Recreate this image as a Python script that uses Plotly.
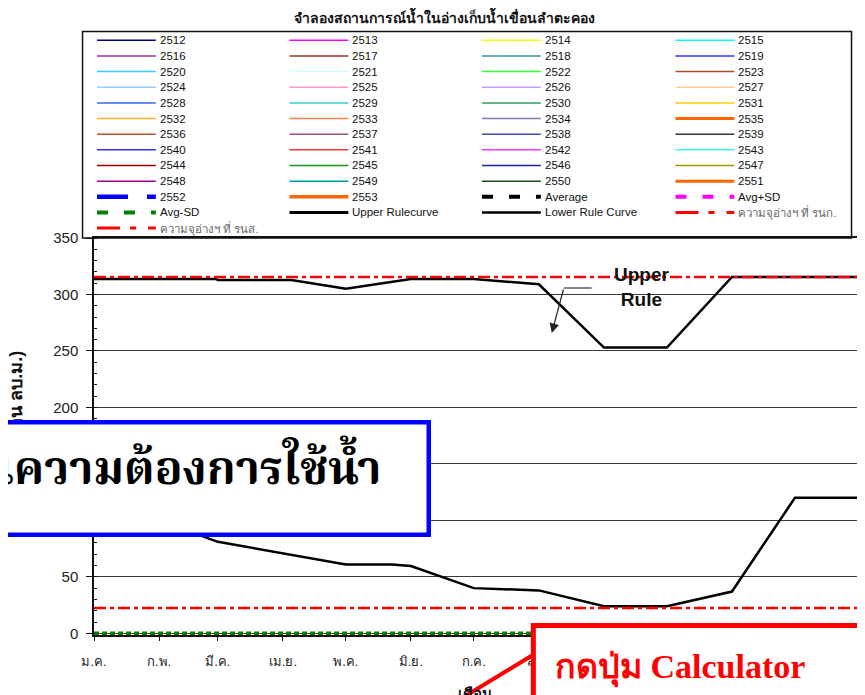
import plotly.graph_objects as go

# ---------------- data ----------------
month_ticks = ['2009-01-01', '2009-02-01', '2009-03-01', '2009-04-01', '2009-05-01', '2009-06-01',
               '2009-07-01', '2009-08-01', '2009-09-01', '2009-10-01', '2009-11-01', '2009-12-01']
# labels from ก.ย. onward are hidden under the red call-out box in the reference
month_labels = ['ม.ค.', 'ก.พ.', 'มี.ค.', 'เม.ย.', 'พ.ค.', 'มิ.ย.', 'ก.ค.', 'ส.ค.', '', '', '', '']

upper_dates = ['2009-01-01', '2009-02-28', '2009-03-01', '2009-04-05', '2009-05-01', '2009-06-01',
               '2009-07-01', '2009-08-01', '2009-09-01', '2009-10-01', '2009-11-01', '2009-12-31']
upper_vals = [313.7, 313.7, 312.8, 312.8, 305.0, 313.7, 313.7, 309.0, 253.0, 253.0, 315.5, 315.5]

lower_dates = ['2009-01-01', '2009-02-01', '2009-03-01', '2009-04-01', '2009-05-01', '2009-05-23',
               '2009-06-01', '2009-07-01', '2009-08-01', '2009-09-01', '2009-10-01', '2009-11-01',
               '2009-12-01', '2009-12-31']
lower_vals = [120, 100, 81, 71, 61, 61, 59.5, 40, 38, 24, 24, 37, 120, 120]

line_dates = ['2009-01-01', '2009-12-31']
cap_nrl = [315.5, 315.5]      # ความจุอ่างฯ ที่ รนก.
cap_lwl = [22.5, 22.5]        # ความจุอ่างฯ ที่ รนส.
avg_minus_sd = [0, 0]

legend_names = ['2512', '2513', '2514', '2515', '2516', '2517', '2518', '2519', '2520', '2521',
                '2522', '2523', '2524', '2525', '2526', '2527', '2528', '2529', '2530', '2531',
                '2532', '2533', '2534', '2535', '2536', '2537', '2538', '2539', '2540', '2541',
                '2542', '2543', '2544', '2545', '2546', '2547', '2548', '2549', '2550', '2551',
                '2552', '2553', 'Average', 'Avg+SD', 'Avg-SD', 'Upper Rulecurve', 'Lower Rule Curve',
                'ความจุอ่างฯ ที่ รนก.', 'ความจุอ่างฯ ที่ รนส.']
legend_colors = ['#000080', '#FF00FF', '#FFFF00', '#00FFFF',
                 '#993399', '#993333', '#339999', '#3333FF',
                 '#33CCFF', '#CCFFFF', '#33FF33', '#A0522D',
                 '#99CCFF', '#FF99CC', '#CC99FF', '#FFCC99',
                 '#3366FF', '#33CCCC', '#339966', '#FFCC00',
                 '#FFAA33', '#FF8040', '#8080B0', '#FF6600',
                 '#B05A2A', '#A0507A', '#4B4BA8', '#333333',
                 '#3333FF', '#FF3333', '#FF33FF', '#33FFFF',
                 '#990000', '#119911', '#1F1F9F', '#999900',
                 '#990099', '#009999', '#1A4D1A', '#FF6600',
                 '#0000FF', '#FF6600', '#000000', '#FF00FF',
                 '#008000', '#000000', '#000000', '#FF0000',
                 '#FF0000']

title_text = 'จำลองสถานการณ์น้ำในอ่างเก็บน้ำเขื่อนลำตะคอง'
ytitle_text = 'ปริมาณน้ำ (ล้าน ลบ.ม.)'
xtitle_text = 'เดือน'

# ---------------- layout helpers ----------------
OFF = 8                      # page body margin
W_FIG, H_FIG = 865 - OFF, 695 - OFF
L, R, T, B = 94 - OFF, 3, 238 - OFF, 60
PW = W_FIG - L - R
PH = H_FIG - T - B
PLOT_LEFT = OFF + L
PLOT_BOTTOM = OFF + H_FIG - B


def px(x):
    return (x - PLOT_LEFT) / PW


def py(y):
    return (PLOT_BOTTOM - y) / PH


fig = go.Figure()

fig.add_trace(go.Scatter(x=line_dates, y=avg_minus_sd, name='Avg-SD', mode='lines',
                         line=dict(color='#008000', width=3.5, dash='5px,3px'), showlegend=False))
fig.add_trace(go.Scatter(x=upper_dates, y=upper_vals, name='Upper Rulecurve', mode='lines',
                         line=dict(color='#000000', width=2.5), showlegend=False))
fig.add_trace(go.Scatter(x=lower_dates, y=lower_vals, name='Lower Rule Curve', mode='lines',
                         line=dict(color='#000000', width=2.5), showlegend=False))
fig.add_trace(go.Scatter(x=line_dates, y=cap_nrl, name='ความจุอ่างฯ ที่ รนก.', mode='lines',
                         line=dict(color='#FF0000', width=2.5, dash='12px,4px,4px,4px'), showlegend=False))
fig.add_trace(go.Scatter(x=line_dates, y=cap_lwl, name='ความจุอ่างฯ ที่ รนส.', mode='lines',
                         line=dict(color='#FF0000', width=2.5, dash='12px,4px,4px,4px'), showlegend=False))

shapes = []
annotations = []

# gaps in the horizontal gridlines at month boundaries
for d in month_ticks[1:]:
    shapes.append(dict(type='line', xref='x', yref='paper', x0=d, x1=d, y0=0, y1=1,
                       line=dict(color='white', width=3), layer='between'))

# ---------------- hand-drawn legend box (4 columns) ----------------
shapes.append(dict(type='rect', xref='paper', yref='paper', x0=px(82.5), x1=px(853.5),
                   y0=py(238), y1=py(31.5), line=dict(color='#111', width=1.5)))
col_x = [97, 290, 483, 677]
row0, row_h = 40.3, 15.65
for i, name in enumerate(legend_names):
    r, c = divmod(i, 4)
    yy = row0 + r * row_h
    x0 = col_x[c]
    width = 1.5
    dash = 'solid'
    if name in ('2535', '2551'):
        width = 3
    if name == '2552':
        width, dash = 4.5, '31px,19px'
    if name == '2553':
        width = 3.5
    if name in ('Average', 'Avg+SD', 'Avg-SD'):
        width, dash = 4, '11px,16px'
    if name == 'Upper Rulecurve':
        width = 3
    if name == 'Lower Rule Curve':
        width = 2.5
    if name.startswith('ความจุ'):
        width, dash = 3, '23px,10px,6px,12px'
    shapes.append(dict(type='line', xref='paper', yref='paper', x0=px(x0), x1=px(x0 + 59),
                       y0=py(yy), y1=py(yy), line=dict(color=legend_colors[i], width=width, dash=dash)))
    annotations.append(dict(text=name, xref='paper', yref='paper', x=px(x0 + 61), y=py(yy),
                            xanchor='left', yanchor='middle', showarrow=False,
                            font=dict(family='Liberation Sans, Arial, sans-serif', size=11.5,
                                      color='#666666' if name.startswith('ความจุ') else '#111111')))

# title
annotations.append(dict(text='<b>' + title_text + '</b>', xref='paper', yref='paper', x=px(445), y=py(17),
                        xanchor='center', yanchor='middle', showarrow=False,
                        font=dict(size=14, color='#111')))

# y-axis title (partly hidden by the blue box)
annotations.append(dict(text='<b>' + ytitle_text + '</b>', xref='paper', yref='paper', x=px(13), y=py(349),
                        xanchor='center', yanchor='top', textangle=-90, showarrow=False,
                        font=dict(size=18, color='#111')))

# x-axis title
annotations.append(dict(text='<b>' + xtitle_text + '</b>', xref='paper', yref='paper', x=px(476), y=py(693),
                        xanchor='center', yanchor='middle', showarrow=False,
                        font=dict(size=15, color='#111')))

# Upper Rule callout
annotations.append(dict(text='<b>Upper<br>Rule</b>', xref='paper', yref='paper', x=px(643), y=py(287),
                        xanchor='center', yanchor='middle', showarrow=False,
                        font=dict(family='Liberation Sans, Arial, sans-serif', size=19, color='#111')))
shapes.append(dict(type='line', xref='paper', yref='paper', x0=px(593), x1=px(565), y0=py(288), y1=py(288),
                   line=dict(color='#333', width=1.2), layer='above'))
annotations.append(dict(text='', xref='paper', yref='paper', x=px(553), y=py(333), ax=12, ay=-45,
                        showarrow=True, arrowhead=2, arrowsize=1.6, arrowwidth=1.2, arrowcolor='#222'))

# blue overlay box (white, covers part of the chart)
annotations.append(dict(text=' ', xref='paper', yref='paper', x=px(432), y=py(478.5),
                        xanchor='right', yanchor='middle', showarrow=False,
                        width=623, height=108, borderpad=0, borderwidth=4.5,
                        bordercolor='#0000FF', bgcolor='white'))
annotations.append(dict(text='<b>นความต้องการใช้น้ำ</b>', xref='paper', yref='paper', x=px(384), y=py(472),
                        xanchor='right', yanchor='middle', showarrow=False,
                        font=dict(family='Noto Serif Thai, Noto Sans Thai, serif', size=46, color='#000')))

# red overlay box
shapes.append(dict(type='rect', xref='paper', yref='paper', x0=px(534.5), x1=px(890), y0=py(625.5), y1=py(720),
                   line=dict(color='#FF0000', width=5), fillcolor='white', layer='above'))
shapes.append(dict(type='line', xref='paper', yref='paper', x0=px(534), x1=px(458), y0=py(655), y1=py(701),
                   line=dict(color='#FF0000', width=4), layer='above'))
annotations.append(dict(text='<b>กดปุ่ม Calculator</b>', xref='paper', yref='paper', x=px(554), y=py(668),
                        xanchor='left', yanchor='middle', showarrow=False,
                        font=dict(family='Liberation Serif, Times New Roman, serif', size=34, color='#FF0000')))

fig.update_layout(
    width=W_FIG, height=H_FIG,
    margin=dict(l=L, r=R, t=T, b=B, pad=0),
    paper_bgcolor='white', plot_bgcolor='white',
    showlegend=False,
    shapes=shapes, annotations=annotations,
    font=dict(family='Liberation Sans, Arial, sans-serif', color='#222'),
)
fig.update_xaxes(type='date', range=['2009-01-01', '2010-01-01'],
                 tickmode='array', tickvals=month_ticks, ticktext=month_labels,
                 ticks='outside', ticklen=4, tickcolor='#111', showgrid=False,
                 showline=True, mirror=True, linecolor='#111', linewidth=1.5,
                 ticklabelstandoff=10, tickfont=dict(size=13, color='#222'),
                 layer='below traces', zeroline=False)
fig.update_yaxes(range=[-1.5, 350], tick0=0, dtick=50,
                 ticks='outside', ticklen=6, tickcolor='#111', tickwidth=1.2,
                 showgrid=True, gridcolor='#3a3a3a', gridwidth=1,
                 minor=dict(dtick=10, ticks='inside', ticklen=3, tickcolor='#111', showgrid=False),
                 showline=True, mirror=True, linecolor='#111', linewidth=1.5,
                 ticklabelstandoff=5, tickfont=dict(size=15, color='#222'),
                 layer='below traces', zeroline=False)

fig.write_html('out.html')
